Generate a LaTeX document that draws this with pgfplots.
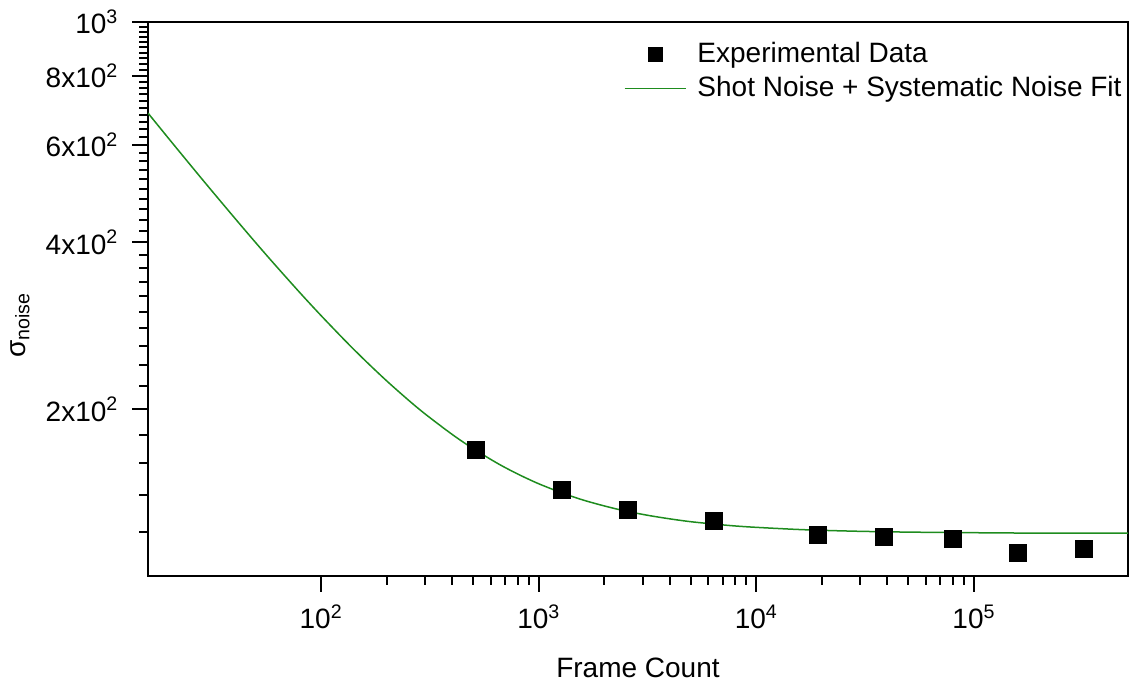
\documentclass[border=0pt]{standalone}
\usepackage{fontspec}
\setmainfont{Liberation Sans}
\usepackage{pgfplots}
\pgfplotsset{compat=1.18}
\definecolor{fitgreen}{RGB}{30,140,30}
\begin{document}
\fontsize{14}{16.5}\selectfont
\begin{tikzpicture}
\begin{axis}[
  scale only axis,
  width=490pt, height=277pt,
  xmode=log, ymode=log,
  xmin=16, xmax=510500,
  ymin=100, ymax=1000,
  axis line style={line width=1pt},
  every major tick/.style={black, line width=1pt},
  every minor tick/.style={black, line width=1pt},
  tick align=outside,
  tick pos=left,
  major tick length=8pt,
  minor tick length=4.5pt,
  xtick={100,1000,10000,100000},
  xticklabels={10\textsuperscript{2},10\textsuperscript{3},10\textsuperscript{4},10\textsuperscript{5}},
  ytick={200,400,600,800,1000},
  yticklabels={2x10\textsuperscript{2},4x10\textsuperscript{2},6x10\textsuperscript{2},8x10\textsuperscript{2},10\textsuperscript{3}},
  minor ytick={120,140,160,180,220,240,260,280,300,320,340,360,380,420,440,460,480,500,520,540,560,580,620,640,660,680,700,720,740,760,780,820,840,860,880,900,920,940,960,980},
  /pgf/number format/assume math mode=true,
  ticklabel style={font=\fontsize{14}{16.5}\selectfont},
  yticklabel style={xshift=-2pt},
  xticklabel style={yshift=-1.5pt},
  xlabel={Frame Count},
  ylabel={σ\textsubscript{noise}},
  label style={font=\fontsize{14}{16.5}\selectfont},
  xlabel style={at={(axis description cs:0.5,-0.166)}, anchor=center},
  ylabel style={at={(axis description cs:-0.1306,0.453)}, anchor=center, rotate=0},
  legend style={at={(axis description cs:1.004,0.979)}, anchor=north east, draw=none, fill=none, font=\fontsize{14}{16.5}\selectfont, row sep=1pt},
  legend cell align=left,
]
\addplot[only marks, mark=square*, mark size=4.25pt, black,
  legend image code/.code={\draw[black] plot[mark=square*, mark size=3.5pt] coordinates {(15.25pt,0pt)}; \path (0pt,0pt) (34pt,0pt);}] coordinates {
(512,169.1) (1280,142.8) (2560,131.8) (6400,125.7) (19200,118.7)
(38400,117.8) (80000,116.8) (160000,109.9) (320000,111.7)
};
\addlegendentry{Experimental Data}
\addplot[fitgreen, line width=0.75pt, smooth,
  legend image code/.code={\draw[fitgreen, line width=0.75pt] (0pt,0pt) -- (30.5pt,0pt); \path (34pt,0pt);}] coordinates {
(16,684.8) (20,614.8) (25,552.5) (30,506.7) (40,442.9) (50,399.7) (60,368.1)
(80,324.3) (100,295.0) (130,265.0) (160,244.4) (200,225.0) (250,208.2)
(300,196.2) (400,180.1) (500,169.7) (650,159.5) (800,152.8) (1000,146.7)
(1300,140.9) (1600,137.1) (2000,133.8) (2500,131.0) (3200,128.6) (4000,126.8)
(5000,125.3) (6500,124.0) (8000,123.1) (10000,122.4) (15000,121.4)
(20000,120.9) (30000,120.4) (50000,120.0) (100000,119.7) (200000,119.5)
(510500,119.5)
};
\addlegendentry{Shot Noise + Systematic Noise Fit}
\coordinate (sw) at (rel axis cs:0,0);
\coordinate (ne) at (rel axis cs:1,1);
\end{axis}
\pgfresetboundingbox
\path ([shift={(-74pt,-56.5pt)}]sw) rectangle ([shift={(1pt,11pt)}]ne);
\end{tikzpicture}
\end{document}
